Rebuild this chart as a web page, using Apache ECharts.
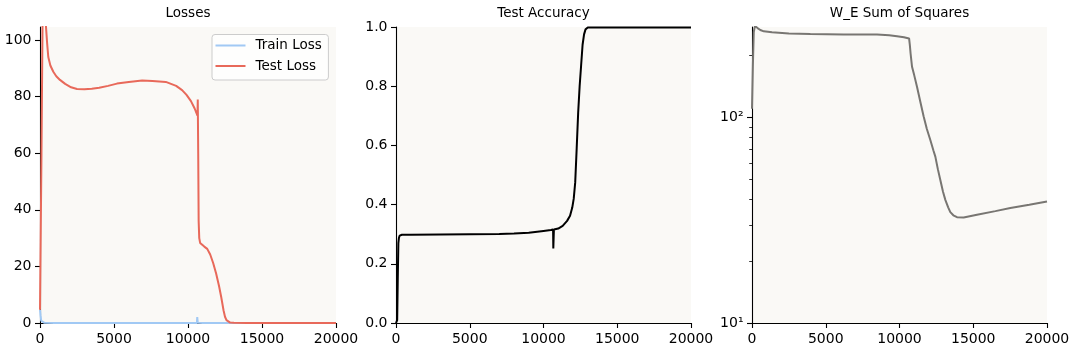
<!DOCTYPE html>
<html><head><meta charset="utf-8">
<script src="https://cdn.jsdelivr.net/npm/echarts@6/dist/echarts.min.js"></script>
<style>html,body{margin:0;padding:0;background:#fff}#c{width:1075px;height:356px}</style>
</head><body><div id="c"></div>
<script>
// ---- data ----
const panelTitles = ['Losses', 'Test Accuracy', 'W_E Sum of Squares'];
const xTicks = [0, 5000, 10000, 15000, 20000];
const lossTicks = [0, 20, 40, 60, 80, 100];
const accTicks = [0, 0.2, 0.4, 0.6, 0.8, 1.0];
const weMajorTicks = [10, 100];
const weMinorTicks = [20, 30, 40, 50, 60, 70, 80, 90, 200];

const trainLossSteps = [0, 40, 80, 150, 300, 1000, 5000, 10000, 10600, 10625, 10640, 10660, 10700, 11000, 15000, 20000];
const trainLoss      = [4.7, 2.5, 0.8, 0.2, 0.05, 0.02, 0.01, 0.01, 0.01, 2.1, 2.1, 0.05, 0.01, 0.01, 0.0, 0.0];

const testLossSteps = [0, 100, 170, 280, 400, 480, 560, 700, 900, 1100, 1350, 1700, 2100, 2500, 3000, 3500, 4000, 4600, 5200, 6000, 6900, 7600, 8500, 9200, 9600, 9900, 10200, 10450, 10640, 10660, 10690, 10720, 10760, 10820, 10900, 11100, 11300, 11500, 11700, 11900, 12100, 12250, 12400, 12500, 12600, 12700, 12850, 13100, 14000, 16000, 18000, 20000];
const testLoss      = [4.7, 60, 105, 112, 105, 99, 94, 91, 88.8, 87.2, 85.9, 84.5, 83.3, 82.7, 82.6, 82.8, 83.1, 83.8, 84.6, 85.2, 85.7, 85.5, 85.2, 83.8, 82.3, 80.6, 78.4, 75.8, 73.3, 79, 60, 36, 30, 28.3, 27.6, 27.0, 26.2, 24.2, 21.2, 17.5, 13.0, 9.0, 4.5, 2.2, 1.0, 0.4, 0.15, 0.05, 0.02, 0.01, 0.01, 0.01];

const accSteps = [0, 80, 120, 160, 200, 250, 300, 400, 1000, 3000, 5000, 7000, 8000, 9000, 10000, 10500, 10650, 10665, 10690, 10705, 11000, 11300, 11600, 11800, 11950, 12050, 12150, 12250, 12350, 12450, 12550, 12650, 12750, 12850, 13000, 15000, 20000];
const testAcc  = [0, 0.01, 0.15, 0.27, 0.288, 0.295, 0.297, 0.298, 0.298, 0.299, 0.300, 0.301, 0.302, 0.305, 0.311, 0.314, 0.316, 0.252, 0.252, 0.316, 0.319, 0.328, 0.345, 0.362, 0.39, 0.42, 0.475, 0.59, 0.71, 0.80, 0.87, 0.94, 0.975, 0.992, 0.998, 0.998, 0.998];

const weSteps = [0, 60, 120, 200, 300, 400, 565, 800, 1356, 2500, 3955, 6215, 8475, 9300, 9830, 10300, 10650, 10700, 10750, 10850, 11000, 11186, 11400, 11638, 11850, 12090, 12300, 12430, 12600, 12768, 12950, 13107, 13300, 13446, 13650, 13898, 14350, 15254, 16500, 17514, 18800, 20000];
const weSumSq = [110, 180, 260, 278, 275, 271, 266, 262, 259, 256, 254, 253, 253, 251, 248, 245, 242, 225, 205, 176, 160, 141, 120, 101, 88, 77.6, 69, 64.4, 56, 49.6, 43.5, 39.7, 36.5, 34.6, 33.4, 32.7, 32.6, 33.6, 35, 36.2, 37.6, 39.0];

// ---- chart ----
const zip = (xs, ys) => xs.map((x, i) => [x, ys[i]]);
const FONT = 'DejaVu Sans';
const txt = { color: '#000', fontFamily: FONT, fontSize: 14 };
const grids = [
  { left: 40, top: 27, width: 296, height: 296 },
  { left: 396, top: 27, width: 295, height: 296 },
  { left: 752, top: 27, width: 295, height: 296 }
];
const centers = grids.map(g => g.left + g.width / 2);

function xAxis(gi) {
  return {
    type: 'value', gridIndex: gi, min: 0, max: 20000, interval: 5000,
    axisLine: { show: true, onZero: false, lineStyle: { color: '#000', width: 1.1 } },
    axisTick: { show: true, length: 5, lineStyle: { color: '#000', width: 1.1 } },
    axisLabel: Object.assign({ margin: 9, customValues: xTicks, formatter: v => String(v) }, txt),
    splitLine: { show: false }
  };
}

const option = {
  animation: false,
  backgroundColor: '#ffffff',
  title: panelTitles.map((t, i) => ({
    text: t, left: centers[i], top: 6, textAlign: 'center', padding: 0,
    textStyle: { color: '#000', fontFamily: FONT, fontSize: 13.5, fontWeight: 'normal' }
  })),
  grid: grids.map(g => Object.assign({ show: true, backgroundColor: '#faf9f6', borderWidth: 0 }, g)),
  legend: {
    orient: 'vertical', left: 212, top: 34.5,
    padding: [4, 6.6, 7, 3.5],
    icon: 'rect',
    itemWidth: 30, itemHeight: 2, itemGap: 6.5,
    backgroundColor: 'rgba(255,255,255,0.8)', borderColor: '#cccccc', borderWidth: 1, borderRadius: 3,
    textStyle: { color: '#000', fontFamily: FONT, fontSize: 13.5, padding: [0, 0, 0, 5], lineHeight: 14 },
    data: ['Train Loss', 'Test Loss']
  },
  xAxis: [xAxis(0), xAxis(1), xAxis(2)],
  yAxis: [
    {
      type: 'value', gridIndex: 0, min: 0, max: 104.6, interval: 20,
      axisLine: { show: true, onZero: false, lineStyle: { color: '#000', width: 1.1 } },
      axisTick: { show: true, length: 5, customValues: lossTicks, lineStyle: { color: '#000', width: 1.1 } },
      axisLabel: Object.assign({ margin: 8.5, customValues: lossTicks }, txt),
      splitLine: { show: false }
    },
    {
      type: 'value', gridIndex: 1, min: 0, max: 1, interval: 0.2,
      axisLine: { show: true, onZero: false, lineStyle: { color: '#000', width: 1.1 } },
      axisTick: { show: true, length: 5, customValues: accTicks, lineStyle: { color: '#000', width: 1.1 } },
      axisLabel: Object.assign({ margin: 8.5, customValues: accTicks, formatter: v => v.toFixed(1) }, txt),
      splitLine: { show: false }
    },
    {
      type: 'log', logBase: 10, gridIndex: 2, min: 10, max: 275,
      axisLine: { show: true, onZero: false, lineStyle: { color: '#000', width: 1.1 } },
      axisTick: { show: true, length: 5, customValues: weMajorTicks, lineStyle: { color: '#000', width: 1.1 } },
      axisLabel: Object.assign({ margin: 8.5, customValues: weMajorTicks, formatter: v => (Math.round(v) === 10 ? '10¹' : '10²') }, txt),
      splitLine: { show: false }
    },
    {
      type: 'log', logBase: 10, gridIndex: 2, min: 10, max: 275, position: 'left',
      axisLine: { show: false },
      axisTick: { show: true, length: 2.8, customValues: weMinorTicks, lineStyle: { color: '#000', width: 0.8 } },
      axisLabel: { show: false },
      splitLine: { show: false }
    }
  ],
  series: [
    {
      name: 'Train Loss', type: 'line', xAxisIndex: 0, yAxisIndex: 0, symbol: 'none',
      color: '#a1c9f4', lineStyle: { color: '#a1c9f4', width: 2 },
      data: zip(trainLossSteps, trainLoss)
    },
    {
      name: 'Test Loss', type: 'line', xAxisIndex: 0, yAxisIndex: 0, symbol: 'none',
      color: '#e8695a', lineStyle: { color: '#e8695a', width: 2 },
      data: zip(testLossSteps, testLoss)
    },
    {
      name: 'Test Accuracy', type: 'line', xAxisIndex: 1, yAxisIndex: 1, symbol: 'none',
      lineStyle: { color: '#000000', width: 2 },
      data: zip(accSteps, testAcc)
    },
    {
      name: 'W_E', type: 'line', xAxisIndex: 2, yAxisIndex: 2, symbol: 'none',
      lineStyle: { color: '#787672', width: 2 },
      data: zip(weSteps, weSumSq)
    }
  ]
};
const chart = echarts.init(document.getElementById('c'), null, { renderer: 'canvas' });
chart.setOption(option);
</script>
</body></html>
